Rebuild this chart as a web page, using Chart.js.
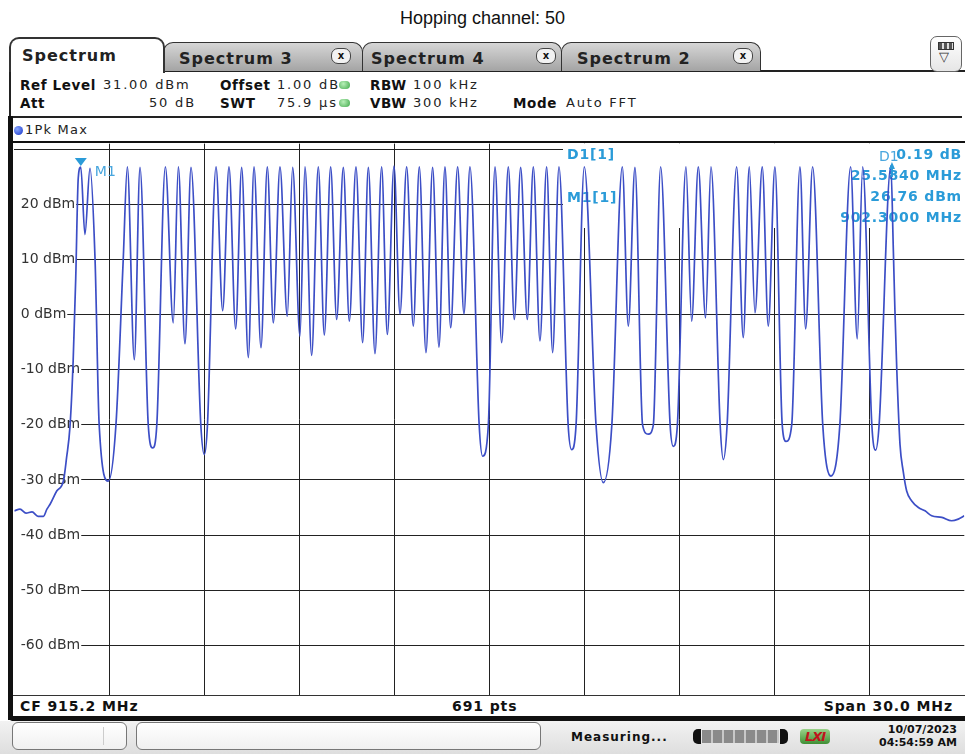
<!DOCTYPE html>
<html>
<head>
<meta charset="utf-8">
<script src="https://cdn.jsdelivr.net/npm/chart.js@4.4.1/dist/chart.umd.min.js"></script>
<style>
body { margin: 0; background: #fff; }
#page { position: relative; width: 965px; height: 754px; overflow: hidden; font-family: "DejaVu Sans", sans-serif; color: #111; }
.t { position: absolute; white-space: nowrap; line-height: 16px; height: 16px; }
.b { font-weight: bold; }
.hd { font-size: 13px; letter-spacing: 1.8px; color: #222; }
.hb { font-size: 13.5px; font-weight: bold; letter-spacing: 0.6px; }
.tab { position: absolute; box-sizing: border-box; border: 1.5px solid #333; border-bottom: none; border-radius: 10px 10px 0 0; }
.tab.off { background: linear-gradient(#d6d6d6, #a4a4a4); top: 42px; height: 29px; }
.tab span { position: absolute; top: 6px; font: bold 16px "DejaVu Sans", sans-serif; letter-spacing: 1px; color: #222; }
.cls { position: absolute; top: 5px; width: 18px; height: 14px; border: 1px solid #444; border-radius: 7px; background: #f2f2f2; font: bold 10px "DejaVu Sans", sans-serif; text-align: center; line-height: 13px; }
.dot { position: absolute; width: 11px; height: 8px; border-radius: 5px; background: radial-gradient(circle at 40% 35%, #b8f0b8, #3fa84a); }
.sbox { position: absolute; top: 722px; height: 28px; box-sizing: border-box; border: 1px solid #777; border-radius: 6px; background: linear-gradient(#ffffff, #f0f0f0); }
canvas { position: absolute; left: 0; top: 0; }
</style>
</head>
<body>
<div id="page">
  <div class="t" style="left:0;width:965px;top:9px;text-align:center;font:18px 'Liberation Sans',Arial,sans-serif;line-height:18px;height:18px;">Hopping channel: 50</div>

  <!-- tabs -->
  <div style="position:absolute;left:160px;top:70px;width:805px;height:2px;background:#222;"></div>
  <div class="tab off" style="left:163px;width:200px;"><span style="left:15px;">Spectrum 3</span><div class="cls" style="left:167px;">x</div></div>
  <div class="tab off" style="left:362px;width:200px;"><span style="left:8px;">Spectrum 4</span><div class="cls" style="left:173px;">x</div></div>
  <div class="tab off" style="left:561px;width:200px;"><span style="left:15px;">Spectrum 2</span><div class="cls" style="left:171px;">x</div></div>
  <div class="tab" style="left:9px;top:37px;width:156px;height:36px;background:#fff;border-width:2px;"><span style="left:11px;top:7px;">Spectrum</span></div>
  <div style="position:absolute;left:930px;top:36px;width:32px;height:36px;box-sizing:border-box;border:1.5px solid #666;border-radius:7px;background:linear-gradient(#fff,#e6e6e6);">
    <div style="position:absolute;left:7px;top:5px;width:14px;height:6px;border:1px solid #333;background:repeating-linear-gradient(90deg,#555 0 3px,#ddd 3px 5px);"></div>
    <div style="position:absolute;left:8px;top:12px;font-size:13px;color:#333;">&#9661;</div>
  </div>

  <!-- header settings -->
  <div style="position:absolute;left:9px;top:72px;width:2px;height:46px;background:#222;"></div>
  <div class="t hb" style="left:20px;top:77px;">Ref Level</div>
  <div class="t hd" style="left:103px;top:77px;">31.00 dBm</div>
  <div class="t hb" style="left:220px;top:77px;">Offset</div>
  <div class="t hd" style="left:277px;top:77px;">1.00 dB</div>
  <div class="dot" style="left:339px;top:81px;"></div>
  <div class="t hb" style="left:370px;top:77px;">RBW</div>
  <div class="t hd" style="left:413px;top:77px;">100 kHz</div>
  <div class="t hb" style="left:20px;top:95px;">Att</div>
  <div class="t hd" style="left:149px;top:95px;">50 dB</div>
  <div class="t hb" style="left:220px;top:95px;">SWT</div>
  <div class="t hd" style="left:277px;top:95px;">75.9 µs</div>
  <div class="dot" style="left:339px;top:99px;"></div>
  <div class="t hb" style="left:370px;top:95px;">VBW</div>
  <div class="t hd" style="left:413px;top:95px;">300 kHz</div>
  <div class="t hb" style="left:513px;top:95px;">Mode</div>
  <div class="t hd" style="left:566px;top:95px;">Auto FFT</div>
  <div style="position:absolute;left:9px;top:116px;width:953px;height:2px;background:#222;"></div>

  <!-- trace window frame -->
  <div style="position:absolute;left:8px;top:116px;width:5px;height:604px;background:#111;"></div>
  <div style="position:absolute;left:14px;top:126px;width:9px;height:9px;border-radius:5px;background:radial-gradient(circle at 35% 35%,#8aa8ff,#1230c8);"></div>
  <div class="t" style="left:25px;top:122px;font-size:13px;letter-spacing:1.2px;color:#222;">1Pk Max</div>
  <div style="position:absolute;left:13px;top:141px;width:952px;height:2px;background:#111;"></div>

  <!-- footer -->
  <div style="position:absolute;left:13px;top:695px;width:952px;height:1px;background:#333;"></div>
  <div class="t b" style="left:20px;top:698px;font-size:14px;letter-spacing:0.9px;">CF 915.2 MHz</div>
  <div class="t b" style="left:452px;top:698px;font-size:14px;letter-spacing:0.9px;">691 pts</div>
  <div class="t b" style="right:12px;top:698px;font-size:14px;letter-spacing:0.9px;">Span 30.0 MHz</div>
  <div style="position:absolute;left:10px;top:716px;width:955px;height:5px;background:#111;border-radius:3px 0 0 3px;"></div>

  <!-- status bar -->
  <div style="position:absolute;left:0;top:721px;width:965px;height:33px;background:linear-gradient(#f2f2f2,#dedede);"></div>
  <div class="sbox" style="left:12px;width:115px;"><div style="position:absolute;left:90px;top:4px;width:1px;height:18px;background:#ccc;"></div></div>
  <div class="sbox" style="left:136px;width:405px;"></div>
  <div class="t b" style="left:571px;top:729px;font-size:12px;letter-spacing:1px;">Measuring...</div>
  <div style="position:absolute;left:693px;top:729px;width:95px;height:15px;border-radius:5px;background:linear-gradient(90deg,#111 0 8px,transparent 8px 87px,#111 87px);">
    <div style="position:absolute;left:9px;top:1px;width:77px;height:13px;background:repeating-linear-gradient(90deg,#8a8a8a 0 9px,#c8c8c8 9px 11px);"></div>
  </div>
  <div class="t" style="left:800px;top:729px;width:30px;height:15px;line-height:15px;border-radius:4px;background:linear-gradient(#9ad28a,#3f8f35);font:italic bold 13px 'DejaVu Sans',sans-serif;color:#c0141c;text-align:center;letter-spacing:-1px;">LXI</div>
  <div class="t b" style="right:8px;top:723px;font-size:11px;height:13px;line-height:13px;">10/07/2023</div>
  <div class="t b" style="right:8px;top:736px;font-size:11px;height:13px;line-height:13px;">04:54:59 AM</div>

  <canvas id="myChart" width="965" height="754"></canvas>
</div>

<script>
// sweep settings
var spanStartMHz = 900.2;
var spanStopMHz = 930.2;
var refLevelDbm = 31;
var bottomLevelDbm = -69;

// grid / tick labels
var xGridMHz = [903.2, 906.2, 909.2, 912.2, 915.2, 918.2, 921.2, 924.2, 927.2];
var yGridDbm = [30, 20, 10, 0, -10, -20, -30, -40, -50, -60];
var yTickLabels = ['', '20 dBm', '10 dBm', '0 dBm', '-10 dBm', '-20 dBm', '-30 dBm', '-40 dBm', '-50 dBm', '-60 dBm'];

// trace: noise floor left of the first channel
var leftSkirt = [[900.20, -35.6], [900.38, -35.3], [900.57, -36.0], [900.76, -35.8], [900.95, -36.6], [901.12, -36.6],
    [901.23, -35.3], [901.33, -34.4], [901.54, -32.0], [901.75, -30.2], [901.85, -26.0], [901.96, -20.2],
    [902.06, -8.2], [902.14, 6.6], [902.22, 24.8]];

// the 50 hopping channel peaks
var peakMHz = [902.30, 902.59, 903.77, 904.17, 904.97, 905.38, 905.78, 906.57, 906.98, 907.38,
    907.77, 908.19, 908.59, 908.99, 909.38, 909.80, 910.19, 910.59, 910.99, 911.38,
    911.80, 912.19, 912.59, 912.99, 913.41, 913.80, 914.20, 914.59, 915.38, 915.80,
    916.19, 916.59, 917.01, 917.40, 918.20, 919.40, 919.80, 920.61, 921.41, 921.80,
    922.20, 923.01, 923.41, 923.82, 924.22, 925.01, 925.41, 926.61, 926.99, 927.88];
var peakDbm = [26.76, 26.5, 26.8, 26.7, 26.8, 26.8, 26.7, 26.8, 26.8, 26.7,
    26.8, 26.8, 26.8, 26.7, 26.8, 26.8, 26.8, 26.7, 26.8, 26.7,
    26.8, 26.9, 26.8, 26.8, 26.7, 26.8, 26.8, 26.8, 26.8, 26.8,
    26.7, 26.8, 26.8, 26.8, 26.8, 26.8, 26.7, 26.8, 26.8, 26.8,
    26.8, 26.8, 26.8, 26.8, 26.8, 26.8, 26.8, 26.8, 26.8, 26.95];

// dips between neighbouring peaks (deep gaps where channels are unused)
var gapPoints = [
    [[902.43, 14.5]],
    [[902.75, 10], [902.88, -20], [903.17, -30.2], [903.41, -20], [903.64, 10]],
    [[903.99, -8.2]],
    [[904.43, -20], [904.57, -24.2], [904.70, -20]],
    [[905.22, -1.5]],
    [[905.59, -5.3]],
    [[906.09, -20], [906.20, -25.4], [906.30, -20]],
    [[906.78, 0.7]],
    [[907.19, -2.6]],
    [[907.59, -7.8]],
    [[907.99, -6.0]],
    [[908.38, -1.5]],
    [[908.82, -0.3]],
    [[909.22, -3.9]],
    [[909.59, -7.4]],
    [[909.99, -3.7]],
    [[910.38, -0.9]],
    [[910.78, -1.2]],
    [[911.20, -5.1]],
    [[911.59, -7.1]],
    [[911.98, -3.6]],
    [[912.38, 0.1]],
    [[912.80, -2.1]],
    [[913.20, -6.9]],
    [[913.61, -5.9]],
    [[913.98, -2.4]],
    [[914.40, 0.1]],
    [[914.88, -20], [914.99, -25.7], [915.17, -20]],
    [[915.59, -5.1]],
    [[915.99, -0.9]],
    [[916.40, -0.9]],
    [[916.80, -4.8]],
    [[917.20, -6.9]],
    [[917.69, -20], [917.80, -24.5], [917.94, -20]],
    [[918.57, -20], [918.80, -30.5], [919.07, -20]],
    [[919.59, -2.1]],
    [[920.04, -20], [920.22, -21.7], [920.38, -20]],
    [[920.91, -20], [921.01, -23.9], [921.14, -20]],
    [[921.59, -1.2]],
    [[922.03, -0.6]],
    [[922.49, -20], [922.59, -26.3], [922.71, -20]],
    [[923.22, -4.2]],
    [[923.59, 0.3]],
    [[924.01, -2.1]],
    [[924.45, -20], [924.57, -23.0], [924.75, -20]],
    [[925.19, -2.6]],
    [[925.73, -20], [925.99, -29.3], [926.27, -20]],
    [[926.82, -4.4]],
    [[927.28, -20], [927.40, -24.6], [927.51, -20]]
];

// noise floor right of the last channel
var rightSkirt = [[927.96, 11.5], [928.01, 0.6], [928.07, -10.3], [928.17, -23.6], [928.27, -28.4], [928.38, -32.0],
    [928.54, -33.8], [928.75, -35.0], [928.96, -35.6], [929.17, -36.5], [929.49, -36.8], [929.80, -37.4],
    [930.01, -37.1], [930.20, -36.5]];

// markers
var markerM1 = {mhz: 902.3, dbm: 26.76};
var markerD1 = {mhz: 927.884, dbm: 26.95};
var markerNames = ['D1[1]', 'M1[1]'];
var markerValues = ['0.19 dB', '25.5840 MHz', '26.76 dBm', '902.3000 MHz'];

var markerColor = '#2a9bd8';

function buildTrace() {
    var pts = [];
    leftSkirt.forEach(function (p) { pts.push({x: p[0], y: p[1]}); });
    peakMHz.forEach(function (f, i) {
        pts.push({x: f, y: peakDbm[i]});
        if (i < gapPoints.length) {
            gapPoints[i].forEach(function (p) { pts.push({x: p[0], y: p[1]}); });
        }
    });
    rightSkirt.forEach(function (p) { pts.push({x: p[0], y: p[1]}); });
    return pts;
}

var markerPlugin = {
    id: 'markerPlugin',
    beforeDatasetsDraw: function (chart) {
        var ctx = chart.ctx, a = chart.chartArea;
        ctx.save();
        // marker table covers the grid in the upper right
        ctx.fillStyle = '#fff';
        ctx.fillRect(563, a.top, a.right - 563 + 2, 228 - a.top);
        ctx.fillStyle = markerColor;
        ctx.font = 'bold 14px "DejaVu Sans"';
        ctx.letterSpacing = '0.8px';
        ctx.textBaseline = 'middle';
        ctx.textAlign = 'left';
        ctx.fillText(markerNames[0], 567, 155);
        ctx.fillText(markerNames[1], 567, 198);
        ctx.textAlign = 'right';
        ctx.fillText(markerValues[0], 962, 155);
        ctx.fillText(markerValues[1], 962, 176);
        ctx.fillText(markerValues[2], 962, 197);
        ctx.fillText(markerValues[3], 962, 218);
        ctx.restore();
    },
    afterDatasetsDraw: function (chart) {
        var ctx = chart.ctx, xs = chart.scales.x, ys = chart.scales.y;
        ctx.save();
        ctx.fillStyle = markerColor;
        // M1: filled triangle above the peak
        var mx = xs.getPixelForValue(markerM1.mhz);
        var my = ys.getPixelForValue(markerM1.dbm);
        ctx.beginPath();
        ctx.moveTo(mx - 6, my - 9);
        ctx.lineTo(mx + 6, my - 9);
        ctx.lineTo(mx, my - 1);
        ctx.closePath();
        ctx.fill();
        ctx.font = '14px "DejaVu Sans"';
        ctx.textBaseline = 'middle';
        ctx.textAlign = 'left';
        ctx.fillStyle = '#48a6de';
        ctx.fillText('M1', mx + 14, my + 5);
        // D1: arrow pointing up
        var dx = xs.getPixelForValue(markerD1.mhz);
        var dy = ys.getPixelForValue(markerD1.dbm);
        ctx.fillStyle = markerColor;
        ctx.beginPath();
        ctx.moveTo(dx - 2, dy + 3);
        ctx.lineTo(dx + 4, dy + 3);
        ctx.lineTo(dx + 1, dy - 4);
        ctx.closePath();
        ctx.fill();
        ctx.fillRect(dx, dy + 3, 2, 8);
        ctx.fillStyle = '#48a6de';
        ctx.fillText('D1', 879, 157);
        ctx.restore();
    }
};

var ctx = document.getElementById('myChart').getContext('2d');
var myChart = new Chart(ctx, {
    type: 'line',
    data: {
        datasets: [{
            label: '1Pk Max',
            data: buildTrace(),
            borderColor: '#3c4ec6',
            borderWidth: 1.7,
            pointRadius: 0,
            cubicInterpolationMode: 'monotone',
            fill: false
        }]
    },
    options: {
        responsive: false,
        animation: false,
        devicePixelRatio: 1,
        layout: {padding: {left: 14.3, right: 0.7, top: 143.6, bottom: 59}},
        plugins: {legend: {display: false}, tooltip: {enabled: false}, title: {display: false}},
        scales: {
            x: {
                type: 'linear',
                min: spanStartMHz,
                max: spanStopMHz,
                afterBuildTicks: function (s) { s.ticks = xGridMHz.map(function (v) { return {value: v}; }); },
                afterFit: function (s) { s.height = 0; },
                ticks: {display: false},
                grid: {color: '#222', lineWidth: 1, drawTicks: false},
                border: {display: false}
            },
            y: {
                type: 'linear',
                min: bottomLevelDbm,
                max: refLevelDbm,
                afterBuildTicks: function (s) { s.ticks = yGridDbm.map(function (v) { return {value: v}; }); },
                afterFit: function (s) { s.width = 0; },
                ticks: {
                    mirror: true,
                    padding: 6.5,
                    autoSkip: false,
                    color: '#333',
                    font: {family: '"DejaVu Sans"', size: 14},
                    callback: function (v, i) { return yTickLabels[i]; },
                    showLabelBackdrop: true,
                    backdropColor: function (c) { return c.index === 0 ? 'rgba(0,0,0,0)' : '#fff'; },
                    backdropPadding: {left: 7, right: 1, top: 0, bottom: 0}
                },
                grid: {color: '#222', lineWidth: 1, drawTicks: false},
                border: {display: false}
            }
        }
    },
    plugins: [markerPlugin]
});
</script>
</body>
</html>
